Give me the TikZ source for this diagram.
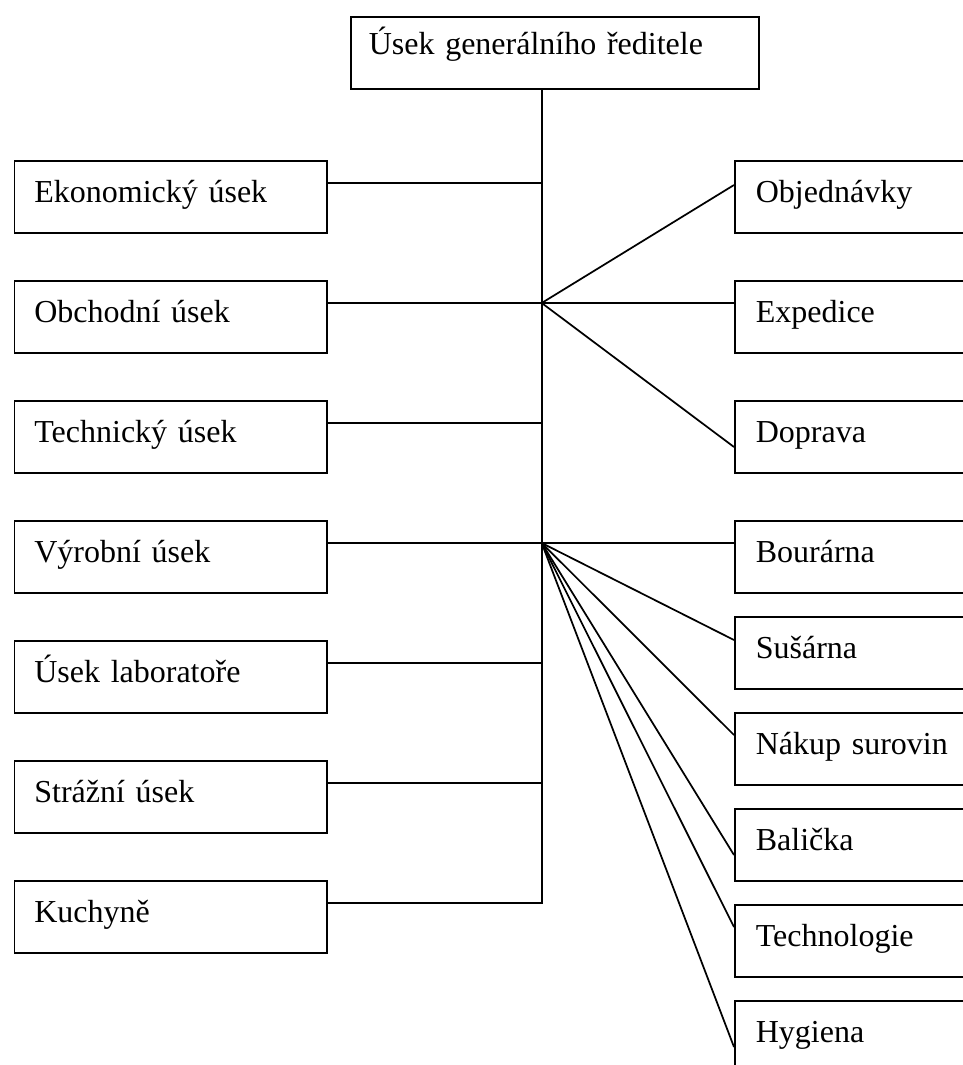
\documentclass[tikz,border=0pt]{standalone}
\usepackage{fontspec}
\setmainfont{Liberation Serif}
\usetikzlibrary{calc}
\begin{document}
\begin{tikzpicture}[x=0.75pt,y=-0.75pt,
  line width=1.3pt,
  every node/.style={font=\fontsize{24pt}{28pt}\selectfont},
  unit/.style={draw, rectangle, anchor=north west, inner ysep=0pt,
    text height=31.5pt, text depth=22.5pt, align=left},
  leftunit/.style={unit, inner xsep=15pt, text width=204.3pt},
  rightunit/.style={unit, inner xsep=15.75pt, text width=180pt},
  headunit/.style={draw, rectangle, anchor=north west, inner ysep=0pt,
    inner xsep=13.5pt, text height=28.5pt, text depth=25.5pt,
    text width=279pt, align=left}]
\useasboundingbox (0,0) rectangle (963,1065);
\clip (0,0) rectangle (963,1065);

% head of the company
\node[headunit] (head) at (350,16) {Úsek generálního ředitele};

% left column
\node[leftunit] (eko)   at (13.5,160) {Ekonomický úsek};
\node[leftunit] (obch)  at (13.5,280) {Obchodní úsek};
\node[leftunit] (tech)  at (13.5,400) {Technický úsek};
\node[leftunit] (vyr)   at (13.5,520) {Výrobní úsek};
\node[leftunit] (lab)   at (13.5,640) {Úsek laboratoře};
\node[leftunit] (straz) at (13.5,760) {Strážní úsek};
\node[leftunit] (kuch)  at (13.5,880) {Kuchyně};

% right column
\node[rightunit] (obj)  at (734,160)  {Objednávky};
\node[rightunit] (exp)  at (734,280)  {Expedice};
\node[rightunit] (dop)  at (734,400)  {Doprava};
\node[rightunit] (bou)  at (734,520)  {Bourárna};
\node[rightunit] (sus)  at (734,616)  {Sušárna};
\node[rightunit] (nak)  at (734,712)  {Nákup surovin};
\node[rightunit] (bal)  at (734,808)  {Balička};
\node[rightunit] (techn) at (734,904) {Technologie};
\node[rightunit] (hyg)  at (734,1000) {Hygiena};

% junction points on the trunk
\coordinate (hub1) at (541.7,303);
\coordinate (hub2) at (541.7,543);

% attachment points of the left units
\foreach \n in {eko,obch,tech,vyr,lab,straz,kuch}
  \path ($(\n.north east)+(0,23)$) coordinate (c\n);

% trunk, ending in the kitchen connector
\draw (head.south -| hub1) |- (ckuch);
\foreach \n in {eko,obch,tech,vyr,lab,straz}
  \draw (c\n) -- (c\n -| hub1);

% first fan
\draw (hub1) -- ($(obj.north west)+(0,25)$);
\draw (hub1) -- ($(exp.north west)+(0,23)$);
\draw (hub1) -- ($(dop.north west)+(0,47)$);

% second fan
\draw (hub2) -- ($(bou.north west)+(0,23)$);
\draw (hub2) -- ($(sus.north west)+(0,24)$);
\draw (hub2) -- ($(nak.north west)+(0,23)$);
\draw (hub2) -- ($(bal.north west)+(0,47)$);
\draw (hub2) -- ($(techn.north west)+(0,23)$);
\draw (hub2) -- ($(hyg.north west)+(0,47)$);
\end{tikzpicture}
\end{document}
